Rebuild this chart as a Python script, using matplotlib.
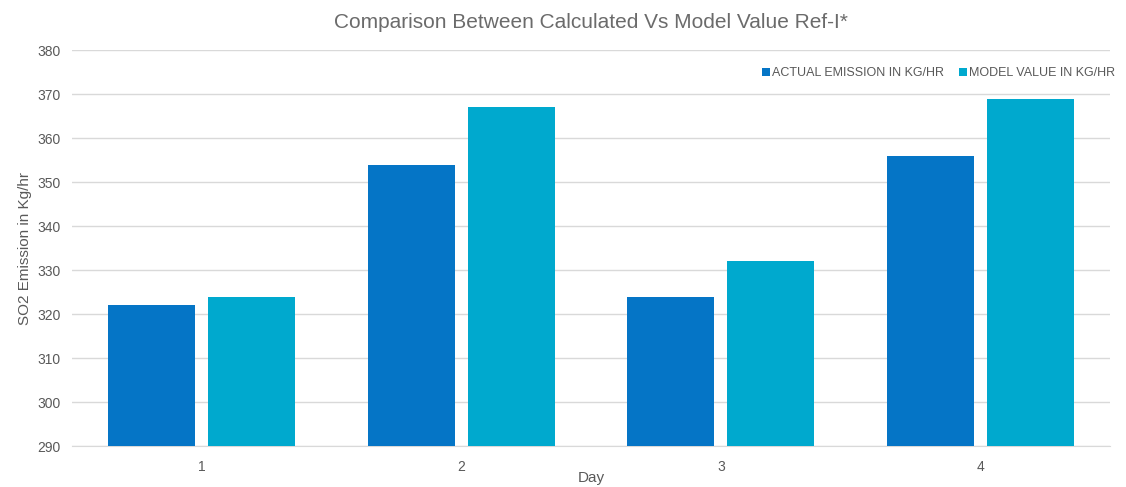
import numpy as np
import matplotlib.pyplot as plt

plt.rcParams['font.family'] = ['Liberation Sans', 'DejaVu Sans']

days = ['1', '2', '3', '4']
actual = [322, 354, 324, 356]
model = [324, 367, 332, 369]

fig = plt.figure(figsize=(11.26, 4.87), dpi=100)
ax = fig.add_axes([0.064, 0.084, 0.922, 0.813])

x = np.arange(len(days))
w = 0.335
ax.bar(x - 0.025 - w / 2, actual, w, color='#0575C6', label='ACTUAL EMISSION IN KG/HR', zorder=3)
ax.bar(x + 0.025 + w / 2, model, w, color='#00A9CE', label='MODEL VALUE IN KG/HR', zorder=3)

ax.set_ylim(290, 380)
ax.set_yticks(range(290, 381, 10))
ax.set_xlim(-0.5, 3.5)
ax.set_xticks(x)
ax.set_xticklabels(days)
ax.grid(axis='y', color='#D9D9D9', linewidth=1, zorder=0)
for s in ['top', 'right', 'left']:
    ax.spines[s].set_visible(False)
ax.spines['bottom'].set_color('#D9D9D9')
ax.tick_params(length=0, colors='#595959', labelsize=10)
ax.tick_params(axis='x', pad=10)
ax.tick_params(axis='y', pad=8)

ax.set_title('Comparison Between Calculated Vs Model Value Ref-I*', fontsize=15, color='#6B6B6B', pad=16)
ax.set_xlabel('Day', fontsize=11, color='#595959')
ax.xaxis.set_label_coords(0.5, -0.062)
ax.set_ylabel('SO2 Emission in Kg/hr', fontsize=11, color='#595959', labelpad=4)

leg = ax.legend(loc='upper right', ncol=2, frameon=False, fontsize=9, handlelength=0.6, handleheight=0.6,
                handletextpad=0.2, columnspacing=1.2, bbox_to_anchor=(1.016, 0.985))
for t in leg.get_texts():
    t.set_color('#595959')

fig.savefig('out.png', dpi=100)
